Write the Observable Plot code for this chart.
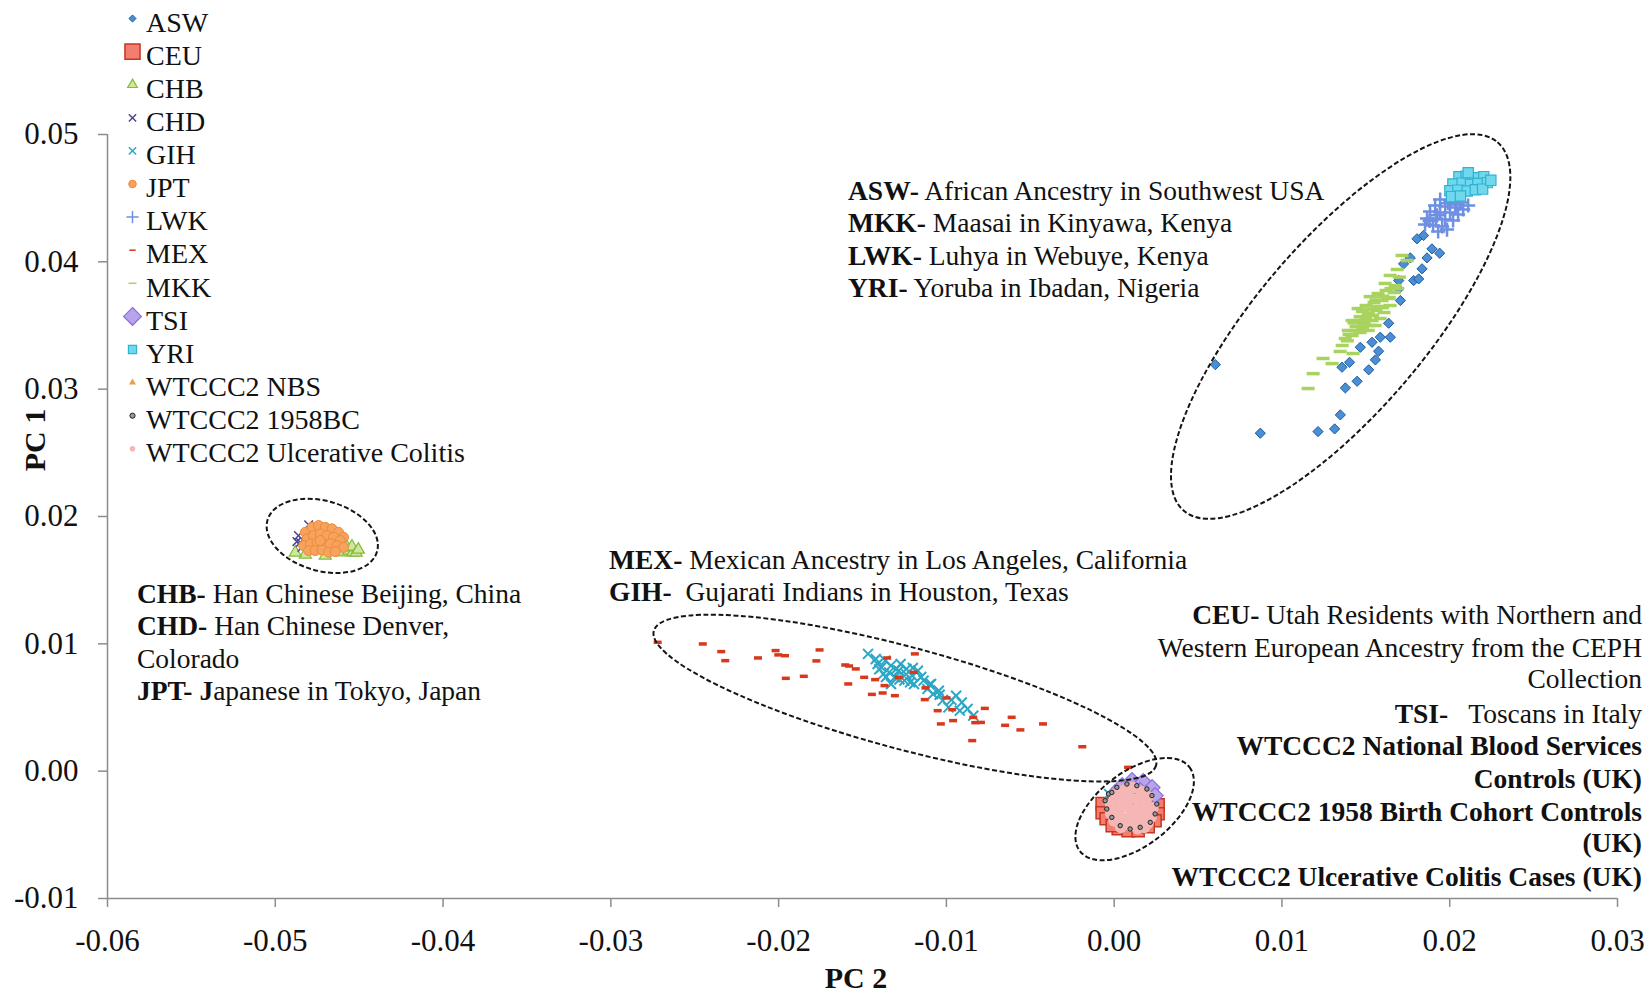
<!DOCTYPE html>
<html>
<head>
<meta charset="utf-8">
<script src="https://cdn.jsdelivr.net/npm/d3@7"></script>
<script src="https://cdn.jsdelivr.net/npm/@observablehq/plot@0.6"></script>
<style>
  html, body { margin: 0; padding: 0; background: #fff; }
  #chart { position: relative; width: 1649px; height: 992px; }
  #chart svg { display: block; }
</style>
</head>
<body>
<div id="chart"></div>
<script>
// Principal component scores per population, as [PC 2, PC 1]
const ASW = [[0.00603,0.03193],[0.00871,0.02654],[0.01215,0.02667],[0.01314,0.02688],[0.01348,0.02798],[0.01378,0.0301],[0.01448,0.03062],[0.01517,0.03152],[0.01557,0.0323],[0.01576,0.03298],[0.01403,0.03211],[0.01358,0.03172],[0.01467,0.03329],[0.01537,0.03368],[0.01586,0.03408],[0.01646,0.03408],[0.01636,0.03518],[0.01706,0.03696],[0.01696,0.03788],[0.01785,0.03853],[0.01815,0.03866],[0.01696,0.03853],[0.01725,0.03984],[0.01765,0.04031],[0.01835,0.03945],[0.01865,0.04031],[0.01894,0.04102],[0.0194,0.04068],[0.01805,0.04181],[0.01844,0.04207]];
const CEU = [[-0.00072,-0.00255],[-0.00072,-0.00326],[-0.00048,-0.00373],[0.00262,-0.00263],[0.00262,-0.00334],[0.00244,-0.00389],[0.00024,-0.00452],[0.00083,-0.00467],[0.00143,-0.00467],[0.00203,-0.00436],[-0.00012,-0.00428],[0.00036,-0.00232],[0.00125,-0.00271],[0.00185,-0.00326]];
const CHB = [[-0.04593,0.01719],[-0.04563,0.01732],[-0.04537,0.01719],[-0.04573,0.01758],[-0.04543,0.01764],[-0.04518,0.01716],[-0.04505,0.0174],[-0.04702,0.01693],[-0.04821,0.01701],[-0.04881,0.01716]];
const CHD = [[-0.04801,0.01934],[-0.04862,0.0185],[-0.04851,0.01797],[-0.04841,0.01758],[-0.04871,0.01803]];
const GIH = [[-0.01467,0.00921],[-0.01421,0.00881],[-0.01364,0.00868],[-0.01387,0.00815],[-0.0133,0.00829],[-0.01284,0.00789],[-0.01238,0.00803],[-0.01307,0.00737],[-0.0125,0.00711],[-0.01204,0.0075],[-0.01193,0.00685],[-0.0117,0.00789],[-0.01136,0.00711],[-0.01113,0.00646],[-0.01079,0.00606],[-0.01045,0.00632],[-0.01022,0.00554],[-0.00988,0.00501],[-0.00942,0.00593],[-0.00908,0.0054],[-0.00874,0.00489],[-0.0084,0.00436],[-0.0092,0.00475],[-0.01341,0.00776],[-0.01375,0.00764],[-0.01273,0.00842],[-0.0141,0.00842],[-0.01216,0.00698],[-0.0133,0.00685],[-0.01091,0.00685],[-0.014,0.008],[-0.0136,0.0074],[-0.0128,0.0072],[-0.0124,0.0076],[-0.012,0.0081],[-0.0115,0.0074],[-0.013,0.008],[-0.011,0.0068],[-0.0104,0.006],[-0.0097,0.0056],[-0.0003,-0.0018],[0.0,-0.0023]];
const JPT = [[-0.04821,0.01876],[-0.04781,0.01915],[-0.04742,0.01929],[-0.04702,0.01915],[-0.04662,0.01903],[-0.04623,0.01876],[-0.04593,0.01837],[-0.04811,0.01824],[-0.04772,0.0185],[-0.04732,0.01863],[-0.04692,0.0185],[-0.04652,0.01837],[-0.04613,0.01811],[-0.04831,0.01771],[-0.04791,0.01785],[-0.04751,0.01797],[-0.04712,0.01785],[-0.04672,0.01785],[-0.04632,0.01771],[-0.04593,0.01758],[-0.04801,0.01732],[-0.04762,0.01732],[-0.04722,0.01738],[-0.04682,0.01719],[-0.04642,0.01724],[-0.04732,0.01811]];
const LWK = [[0.01943,0.0449],[0.02002,0.04482],[0.02062,0.04466],[0.0211,0.04442],[0.01913,0.04442],[0.01973,0.04434],[0.02032,0.04426],[0.0208,0.04411],[0.01883,0.04395],[0.01943,0.04387],[0.02002,0.04387],[0.0205,0.04371],[0.01865,0.0434],[0.01919,0.0434],[0.01973,0.04332],[0.0202,0.04324],[0.01853,0.04293],[0.01901,0.04285],[0.01955,0.04277],[0.01931,0.04238],[0.01984,0.04253],[0.0199,0.0446],[0.01925,0.04365],[0.0204,0.0445],[0.0188,0.0432]];
const MEX = [[-0.02721,0.01012],[-0.02452,0.00999],[-0.02342,0.00939],[-0.02318,0.00868],[-0.02123,0.00889],[-0.02018,0.00947],[-0.02002,0.00913],[-0.01962,0.00907],[-0.01957,0.00729],[-0.0185,0.00745],[-0.01775,0.00866],[-0.01756,0.00952],[-0.01603,0.00834],[-0.0158,0.00826],[-0.0154,0.00803],[-0.01585,0.00685],[-0.0149,0.00737],[-0.01425,0.00719],[-0.01444,0.00603],[-0.0138,0.00614],[-0.01369,0.00672],[-0.01307,0.00593],[-0.01353,0.00889],[-0.01188,0.00921],[-0.01193,0.00776],[-0.01284,0.00737],[-0.01125,0.00654],[-0.01129,0.00562],[-0.01052,0.00475],[-0.01033,0.00371],[-0.00999,0.00575],[-0.00965,0.00483],[-0.0096,0.00397],[-0.0084,0.00423],[-0.00828,0.00381],[-0.00794,0.00383],[-0.00771,0.00493],[-0.00846,0.0024],[-0.0065,0.0036],[-0.00611,0.00423],[-0.00559,0.00324],[-0.00424,0.00371],[-0.0019,0.00192],[0.00083,0.0003]];
const MKK = [[0.01377,0.03398],[0.01418,0.03421],[0.01466,0.03445],[0.01514,0.03461],[0.01395,0.03461],[0.01442,0.03492],[0.0149,0.03515],[0.01537,0.03539],[0.01418,0.03539],[0.01466,0.0357],[0.01514,0.03594],[0.01561,0.03618],[0.01609,0.03602],[0.01454,0.03633],[0.01502,0.03657],[0.01549,0.03681],[0.01597,0.03696],[0.01645,0.03657],[0.01526,0.03727],[0.01573,0.03751],[0.01621,0.03775],[0.01669,0.03759],[0.01359,0.03343],[0.01555,0.035],[0.01585,0.03555],[0.01633,0.03712],[0.01675,0.03814],[0.01615,0.0383],[0.014,0.0343],[0.0144,0.0346],[0.0148,0.0348],[0.0143,0.0352],[0.0147,0.0354],[0.015,0.0356],[0.0154,0.0358],[0.0148,0.0361],[0.0153,0.0363],[0.01575,0.0365],[0.0156,0.037],[0.016,0.0373],[0.0164,0.0372],[0.0152,0.035],[0.0139,0.0338],[0.016,0.0364],[0.0165,0.0379],[0.0169,0.0379],[0.017,0.0388],[0.01186,0.03122],[0.01156,0.03005],[0.01245,0.03241],[0.01299,0.03201],[0.01424,0.0328],[0.01347,0.03296],[0.01687,0.0394],[0.01746,0.0401],[0.01716,0.0405],[0.01645,0.03893]];
const TSI = [[0.00048,-0.00114],[0.00107,-0.00074],[0.00173,-0.00082],[0.00226,-0.00129],[0.00244,-0.00192],[0.00006,-0.00169],[0.00083,-0.00153],[0.00155,-0.00153]];
const YRI = [[0.02055,0.04668],[0.02098,0.04672],[0.02149,0.04661],[0.02203,0.04669],[0.02019,0.04611],[0.02074,0.04618],[0.02124,0.04608],[0.02168,0.04615],[0.02224,0.04622],[0.02001,0.04558],[0.02049,0.04563],[0.02104,0.04556],[0.02153,0.04566],[0.02196,0.04571],[0.02011,0.04512],[0.02064,0.04517],[0.02245,0.0464],[0.0211,0.047]];
const NBS = [[0.00083,-0.00145],[0.0016,-0.0019],[0.0004,-0.0027]];
const BC1958 = [[-0.00034,-0.00179],[-0.00014,-0.00167],[0.00016,-0.00127],[0.00076,-0.00101],[0.00135,-0.00114],[0.00195,-0.0014],[0.00225,-0.00192],[0.00254,-0.00258],[0.00244,-0.00336],[0.00215,-0.00402],[0.00155,-0.00441],[0.00095,-0.00454],[0.00036,-0.00428],[-0.00014,-0.00363],[-0.00044,-0.00297],[-0.00054,-0.00232]];
const UC = [[0.0001,-0.0019],[0.0006,-0.0015],[0.0011,-0.0013],[0.0016,-0.0016],[0.002,-0.002],[-0.0002,-0.0026],[0.0004,-0.0023],[0.0009,-0.0021],[0.0014,-0.0022],[0.0019,-0.0026],[0.0023,-0.0029],[-0.0002,-0.0033],[0.0003,-0.0031],[0.0008,-0.0028],[0.0013,-0.003],[0.0018,-0.0033],[0.0022,-0.0036],[0.0,-0.0039],[0.0005,-0.0037],[0.001,-0.0035],[0.0015,-0.0038],[0.002,-0.0041],[0.0004,-0.0044],[0.0009,-0.0042],[0.0014,-0.0045],[0.0018,-0.0044]];

const xTicks = [-0.06, -0.05, -0.04, -0.03, -0.02, -0.01, 0, 0.01, 0.02, 0.03];
const yTicks = [-0.01, 0, 0.01, 0.02, 0.03, 0.04, 0.05];
const legendLabels = ["ASW", "CEU", "CHB", "CHD", "GIH", "JPT", "LWK", "MEX", "MKK", "TSI", "YRI", "WTCCC2 NBS", "WTCCC2 1958BC", "WTCCC2 Ulcerative Colitis"];

// Short horizontal bar marker
const dash = {
  draw(context, size) {
    const w = Math.sqrt(size / Math.PI);
    context.moveTo(-w, 0);
    context.lineTo(w, 0);
  }
};

const seriesStyle = {
  "ASW": {symbol: "diamond2", r: 4.6, fill: "#4a8fd6", stroke: "#1f5c9c", strokeWidth: 1, legend: 3.2},
  "CEU": {symbol: "square", r: 6.8, fill: "#f27d72", stroke: "#c8351c", strokeWidth: 1.5, legend: 8.5},
  "CHB": {symbol: "triangle", r: 4.5, fill: "#cfe69c", stroke: "#84bb3c", strokeWidth: 1.2, legend: 3.6},
  "CHD": {symbol: "times", r: 4, fill: "none", stroke: "#4b4590", strokeWidth: 1.5, legend: 3.4},
  "GIH": {symbol: "times", r: 4.6, fill: "none", stroke: "#2ba7c5", strokeWidth: 2, legend: 3.4},
  "JPT": {symbol: "circle", r: 5, fill: "#f6a35e", stroke: "#ef8a3d", strokeWidth: 1, legend: 3.8},
  "LWK": {symbol: "plus", r: 4.6, fill: "none", stroke: "#6e8fe2", strokeWidth: 2.5, legend: 4},
  "MEX": {symbol: dash, r: 4, fill: "none", stroke: "#d8381b", strokeWidth: 3.5, legend: 3.2},
  "MKK": {symbol: dash, r: 6.5, fill: "none", stroke: "#a8d35f", strokeWidth: 3.5, legend: 4},
  "TSI": {symbol: "diamond2", r: 7.2, fill: "#b9a3ea", stroke: "#8b6fd8", strokeWidth: 1.2, legend: 8},
  "YRI": {symbol: "square", r: 5.8, fill: "#6fd8ec", stroke: "#31b1d3", strokeWidth: 1.2, legend: 4.6},
  "WTCCC2 NBS": {symbol: "triangle", r: 2.6, fill: "#e2a446", stroke: "none", strokeWidth: 0, legend: 2.6},
  "WTCCC2 1958BC": {symbol: "circle", r: 2.2, fill: "#9a9a9a", stroke: "#222", strokeWidth: 1, legend: 2.6},
  "WTCCC2 Ulcerative Colitis": {symbol: "circle", r: 6, fill: "#f5b6b6", stroke: "none", strokeWidth: 0, legend: 2.8}
};

// later entries are painted on top
const drawOrder = [
  ["ASW", ASW], ["CEU", CEU], ["CHB", CHB], ["CHD", CHD], ["GIH", GIH], ["JPT", JPT],
  ["LWK", LWK], ["MEX", MEX], ["MKK", MKK], ["TSI", TSI], ["YRI", YRI],
  ["WTCCC2 NBS", NBS], ["WTCCC2 Ulcerative Colitis", UC], ["WTCCC2 1958BC", BC1958]
];

// dashed outlines grouping the continental clusters (centre in data units, radii in px)
const groupRings = [
  {pc2: -0.04717, pc1: 0.01844, rx: 57, ry: 35, angle: 16},
  {pc2: -0.01244, pc1: 0.0057, rx: 260, ry: 51, angle: 15},
  {pc2: 0.00125, pc1: -0.00302, rx: 69, ry: 37, angle: -37.4},
  {pc2: 0.01353, pc1: 0.03488, rx: 242, ry: 85, angle: -49.6}
];

const notesAfrica = [["ASW-", " African Ancestry in Southwest USA"], ["MKK-", " Maasai in Kinyawa, Kenya"], ["LWK-", " Luhya in Webuye, Kenya"], ["YRI-", " Yoruba in Ibadan, Nigeria"]];
const notesEastAsia = [["CHB-", " Han Chinese Beijing, China"], ["CHD-", " Han Chinese Denver,"], ["", "Colorado"], ["JPT- J", "apanese in Tokyo, Japan"]];
const notesAmericas = [["MEX-", " Mexican Ancestry in Los Angeles, California"], ["GIH-", "  Gujarati Indians in Houston, Texas"]];
const notesEurope = [["CEU-", " Utah Residents with Northern and"], ["", "Western European Ancestry from the CEPH"], ["", "Collection"], ["TSI-", "   Toscans in Italy"], ["WTCCC2 National Blood Services", ""], ["Controls (UK)", ""], ["WTCCC2 1958 Birth Cohort Controls", ""], ["(UK)", ""], ["WTCCC2 Ulcerative Colitis Cases (UK)", ""]];

const serif = "'Liberation Serif', 'Times New Roman', Times, serif";
const axisGray = "#8c8c8c";
const fmt = d => d.toFixed(2);

const dotMarks = drawOrder.map(([name, pts]) => {
  const s = seriesStyle[name];
  return Plot.dot(pts, {
    x: d => d[0], y: d => d[1],
    symbol: s.symbol, r: s.r,
    fill: s.fill, stroke: s.stroke, strokeWidth: s.strokeWidth
  });
});

const chart = Plot.plot({
  width: 1649,
  height: 992,
  marginLeft: 107,
  marginRight: 32,
  marginTop: 134,
  marginBottom: 94,
  x: {domain: [-0.06, 0.03]},
  y: {domain: [-0.01, 0.05]},
  style: {fontFamily: serif, fontSize: "31px", color: "#111", background: "#fff", overflow: "visible"},
  marks: [
    Plot.ruleY([-0.01], {stroke: axisGray, strokeWidth: 1.5}),
    Plot.ruleX([-0.06], {stroke: axisGray, strokeWidth: 1.5}),
    Plot.axisX({ticks: xTicks, anchor: "bottom", tickSize: 9, tickPadding: 21, tickFormat: fmt, stroke: axisGray, strokeWidth: 1.5, label: null}),
    Plot.axisY({ticks: yTicks, anchor: "left", tickSize: 9, tickPadding: 20, tickFormat: fmt, stroke: axisGray, strokeWidth: 1.5, label: null}),
    ...dotMarks
  ]
});

document.getElementById("chart").appendChild(chart);

const svg = d3.select(chart);
const sx = chart.scale("x"), sy = chart.scale("y");
const X = sx.apply ? v => sx.apply(v) : d3.scaleLinear(sx.domain, sx.range);
const Y = sy.apply ? v => sy.apply(v) : d3.scaleLinear(sy.domain, sy.range);

// dashed cluster outlines
const rings = svg.append("g")
  .attr("fill", "none").attr("stroke", "#151515")
  .attr("stroke-width", 2).attr("stroke-dasharray", "5 2.5");
for (const e of groupRings) {
  const cx = X(e.pc2), cy = Y(e.pc1);
  rings.append("ellipse")
    .attr("cx", cx).attr("cy", cy).attr("rx", e.rx).attr("ry", e.ry)
    .attr("transform", `rotate(${e.angle} ${cx} ${cy})`);
}

// axis titles
svg.append("text")
  .attr("transform", "translate(34,440) rotate(-90)")
  .attr("text-anchor", "middle").attr("dy", "0.35em")
  .attr("font-family", serif).attr("font-weight", "bold").attr("font-size", 30).attr("fill", "#111")
  .text("PC 1");
svg.append("text")
  .attr("x", 856).attr("y", 988)
  .attr("text-anchor", "middle")
  .attr("font-family", serif).attr("font-weight", "bold").attr("font-size", 30).attr("fill", "#111")
  .text("PC 2");

// legend
const symbolTypes = {
  circle: d3.symbolCircle, square: d3.symbolSquare, triangle: d3.symbolTriangle,
  times: d3.symbolTimes, plus: d3.symbolPlus, diamond2: d3.symbolDiamond2
};
const legend = svg.append("g")
  .attr("font-family", serif).attr("font-size", 28).attr("fill", "#111")
  .attr("text-anchor", "start");
legendLabels.forEach((name, i) => {
  const s = seriesStyle[name];
  const type = typeof s.symbol === "string" ? symbolTypes[s.symbol] : s.symbol;
  const my = 18.5 + 33.1 * i;
  legend.append("path")
    .attr("transform", `translate(132.5,${my})`)
    .attr("d", d3.symbol(type, Math.PI * s.legend * s.legend)())
    .attr("fill", s.fill).attr("stroke", s.stroke)
    .attr("stroke-width", s.strokeWidth ? Math.min(s.strokeWidth, 1.5) : 0);
  legend.append("text")
    .attr("x", 146).attr("y", 31.7 + 33.1 * i)
    .attr("text-anchor", "start")
    .text(name);
});

// population descriptions
function noteBlock(lines, x, y0, step, anchor, baselines) {
  const g = svg.append("g").attr("font-family", serif).attr("font-size", 27.5).attr("fill", "#111");
  lines.forEach(([bold, plain], i) => {
    const t = g.append("text")
      .attr("x", x).attr("y", baselines ? baselines[i] : y0 + step * i)
      .attr("text-anchor", anchor)
      .attr("xml:space", "preserve").style("white-space", "pre");
    if (bold) t.append("tspan").attr("font-weight", "bold").text(bold);
    if (plain) t.append("tspan").text(plain);
  });
}
noteBlock(notesAfrica, 848, 199.5, 32.5, "start");
noteBlock(notesEastAsia, 137, 603, 32.3, "start");
noteBlock(notesAmericas, 609, 568.5, 32.5, "start");
noteBlock(notesEurope, 1642, 0, 0, "end", [624, 657, 688, 723, 755, 788, 821, 852, 886]);
</script>
</body>
</html>
